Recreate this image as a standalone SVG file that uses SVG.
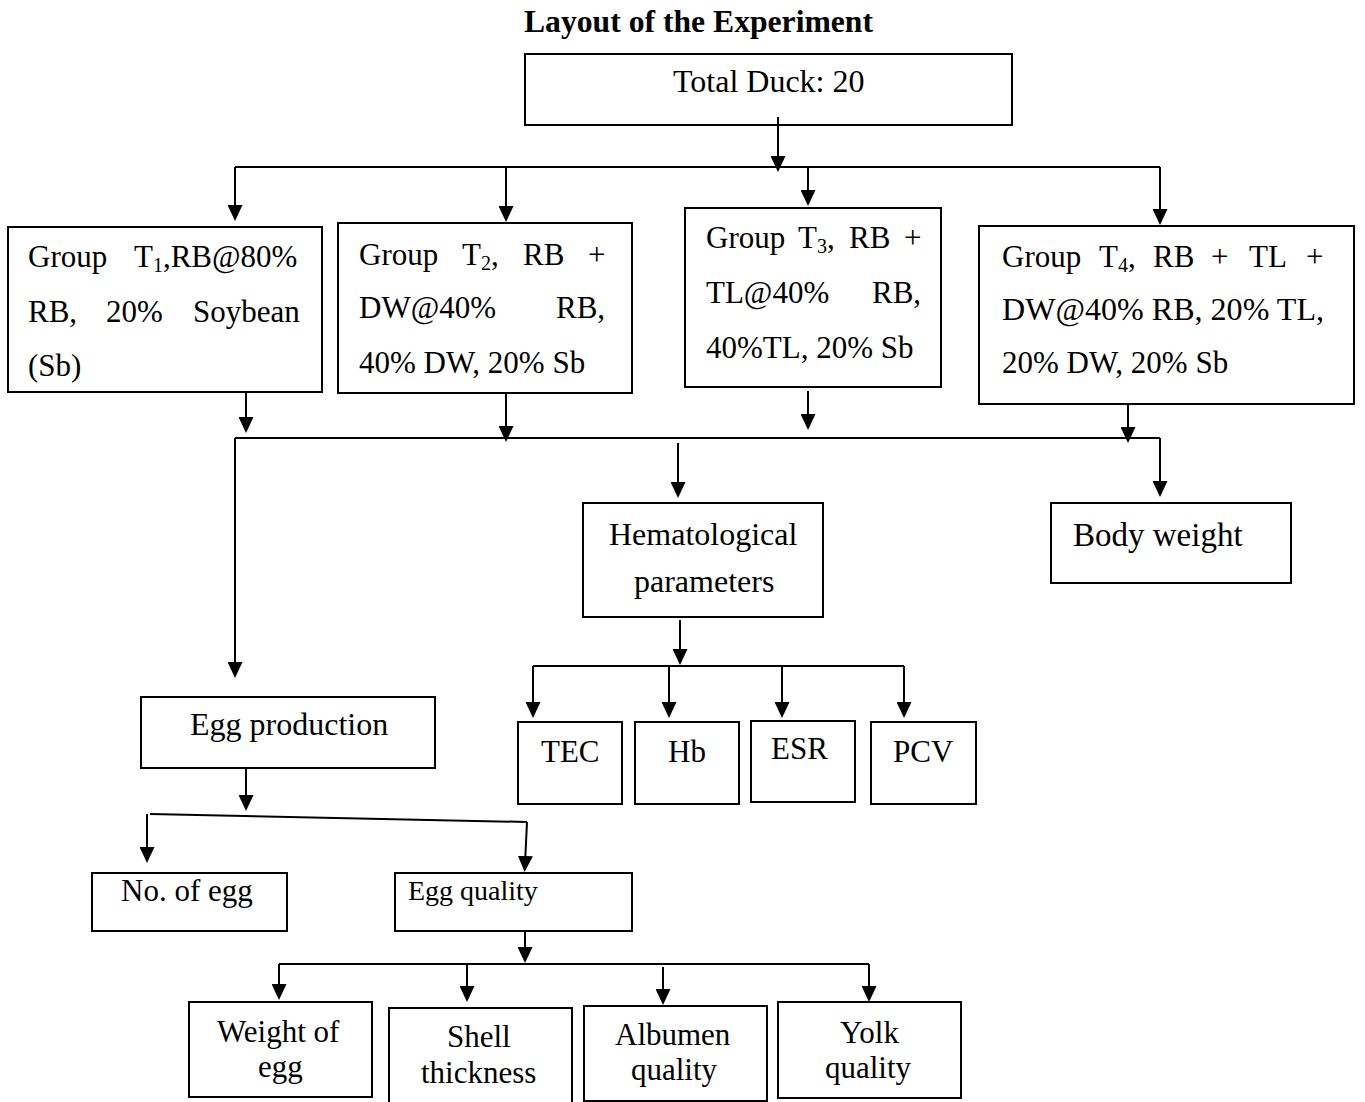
<svg xmlns="http://www.w3.org/2000/svg" width="1365" height="1102" viewBox="0 0 1365 1102">
<style>
.box{fill:#fff;stroke:#000;stroke-width:2}
.t{font-family:"Liberation Serif","Times New Roman",serif;font-size:31px;fill:#000}
.l{font-size:32px}
.sub{font-size:20px}
.title{font-family:"Liberation Serif","Times New Roman",serif;font-size:32px;font-weight:bold;fill:#000}
.c{fill:none;stroke:#000;stroke-width:2}
</style>
<defs>
<marker id="ah" viewBox="0 0 16 15" refX="12" refY="7.5" markerWidth="16" markerHeight="15" markerUnits="userSpaceOnUse" orient="auto">
<path d="M0,0 L16,7.5 L0,15 z" fill="#000"/>
</marker>
</defs>
<rect width="1365" height="1102" fill="#fff"/>
<text class="title" x="524" y="32" textLength="349" lengthAdjust="spacingAndGlyphs">Layout of the Experiment</text>

<g id="total">
<rect class="box" x="525" y="54" width="487" height="71"/>
<text class="t l" x="673" y="92">Total Duck: 20</text>
</g>

<g id="t1">
<rect class="box" x="8" y="227" width="314" height="165"/>
<text class="t" x="28" y="267">Group</text>
<text class="t" x="134" y="267">T<tspan class="sub" dy="5">1</tspan><tspan dy="-5">,RB@80%</tspan></text>
<text class="t" x="28" y="322">RB,</text>
<text class="t" x="106" y="322">20%</text>
<text class="t" x="193" y="322">Soybean</text>
<text class="t" x="28" y="376">(Sb)</text>
</g>

<g id="t2">
<rect class="box" x="338" y="223" width="294" height="170"/>
<text class="t" x="359" y="265">Group</text>
<text class="t" x="462" y="265">T<tspan class="sub" dy="5">2</tspan><tspan dy="-5">,</tspan></text>
<text class="t" x="523" y="265">RB</text>
<text class="t" x="588" y="265">+</text>
<text class="t" x="359" y="318">DW@40%</text>
<text class="t" x="556" y="318">RB,</text>
<text class="t" x="359" y="373">40% DW, 20% Sb</text>
</g>

<g id="t3">
<rect class="box" x="685" y="208" width="256" height="179"/>
<text class="t" x="706" y="248">Group</text>
<text class="t" x="798" y="248">T<tspan class="sub" dy="5">3</tspan><tspan dy="-5">,</tspan></text>
<text class="t" x="849" y="248">RB</text>
<text class="t" x="904" y="248">+</text>
<text class="t" x="706" y="303">TL@40%</text>
<text class="t" x="872" y="303">RB,</text>
<text class="t" x="706" y="358">40%TL, 20% Sb</text>
</g>

<g id="t4">
<rect class="box" x="979" y="226" width="375" height="178"/>
<text class="t" x="1002" y="267">Group</text>
<text class="t" x="1099" y="267">T<tspan class="sub" dy="5">4</tspan><tspan dy="-5">,</tspan></text>
<text class="t" x="1153" y="267">RB</text>
<text class="t" x="1211" y="267">+</text>
<text class="t" x="1249" y="267">TL</text>
<text class="t" x="1306" y="267">+</text>
<text class="t" x="1002" y="320" textLength="322" lengthAdjust="spacingAndGlyphs">DW@40% RB, 20% TL,</text>
<text class="t" x="1002" y="373">20% DW, 20% Sb</text>
</g>

<g id="hema">
<rect class="box" x="583" y="503" width="240" height="114"/>
<text class="t l" x="609" y="545">Hematological</text>
<text class="t l" x="634" y="592">parameters</text>
</g>

<g id="body">
<rect class="box" x="1051" y="503" width="240" height="80"/>
<text class="t" x="1073" y="546" style="font-size:33px">Body weight</text>
</g>

<g id="eggprod">
<rect class="box" x="141" y="697" width="294" height="71"/>
<text class="t l" x="190" y="735">Egg production</text>
</g>

<g id="tec">
<rect class="box" x="518" y="722" width="104" height="82"/>
<text class="t" x="541" y="762">TEC</text>
</g>
<g id="hb">
<rect class="box" x="635" y="722" width="104" height="82"/>
<text class="t" x="668" y="762">Hb</text>
</g>
<g id="esr">
<rect class="box" x="751" y="721" width="104" height="81"/>
<text class="t" x="771" y="759">ESR</text>
</g>
<g id="pcv">
<rect class="box" x="871" y="722" width="105" height="82"/>
<text class="t" x="893" y="762">PCV</text>
</g>

<g id="noegg">
<rect class="box" x="92" y="873" width="195" height="58"/>
<text class="t" x="121" y="901">No. of egg</text>
</g>
<g id="eggq">
<rect class="box" x="395" y="873" width="237" height="58"/>
<text class="t" x="408" y="900" style="font-size:28px">Egg quality</text>
</g>

<g id="weight">
<rect class="box" x="189" y="1002" width="183" height="95"/>
<text class="t" x="217" y="1042">Weight of</text>
<text class="t" x="258" y="1077">egg</text>
</g>
<g id="shell">
<rect class="box" x="389" y="1008" width="183" height="110"/>
<text class="t" x="447" y="1047">Shell</text>
<text class="t" x="421" y="1083">thickness</text>
</g>
<g id="albumen">
<rect class="box" x="584" y="1006" width="183" height="95"/>
<text class="t" x="615" y="1045">Albumen</text>
<text class="t" x="631" y="1080">quality</text>
</g>
<g id="yolk">
<rect class="box" x="778" y="1002" width="183" height="96"/>
<text class="t" x="840" y="1043">Yolk</text>
<text class="t" x="825" y="1078">quality</text>
</g>

<g id="connectors">
<path class="c" d="M778,117 V168" marker-end="url(#ah)"/>
<path class="c" d="M235,167 H1160"/>
<path class="c" d="M235,167 V217" marker-end="url(#ah)"/>
<path class="c" d="M506,167 V218" marker-end="url(#ah)"/>
<path class="c" d="M808,167 V202" marker-end="url(#ah)"/>
<path class="c" d="M1160,167 V221" marker-end="url(#ah)"/>

<path class="c" d="M246,392 V429" marker-end="url(#ah)"/>
<path class="c" d="M506,393 V438" marker-end="url(#ah)"/>
<path class="c" d="M808,391 V426" marker-end="url(#ah)"/>
<path class="c" d="M1128,404 V439" marker-end="url(#ah)"/>

<path class="c" d="M235,438 H1160"/>
<path class="c" d="M235,438 V674" marker-end="url(#ah)"/>
<path class="c" d="M678,443 V494" marker-end="url(#ah)"/>
<path class="c" d="M1160,438 V493" marker-end="url(#ah)"/>

<path class="c" d="M680,620 V661" marker-end="url(#ah)"/>
<path class="c" d="M533,666 H904"/>
<path class="c" d="M533,666 V714" marker-end="url(#ah)"/>
<path class="c" d="M669,665 V714" marker-end="url(#ah)"/>
<path class="c" d="M782,665 V714" marker-end="url(#ah)"/>
<path class="c" d="M904,666 V714" marker-end="url(#ah)"/>

<path class="c" d="M246,768 V807" marker-end="url(#ah)"/>
<path class="c" d="M150,814 L527,822"/>
<path class="c" d="M147,814 V859" marker-end="url(#ah)"/>
<path class="c" d="M527,822 L524.8,868" marker-end="url(#ah)"/>

<path class="c" d="M525,931 V959" marker-end="url(#ah)"/>
<path class="c" d="M279,964 H869"/>
<path class="c" d="M279,964 V996" marker-end="url(#ah)"/>
<path class="c" d="M467,964 V998" marker-end="url(#ah)"/>
<path class="c" d="M663,967 V1001" marker-end="url(#ah)"/>
<path class="c" d="M869,964 V998" marker-end="url(#ah)"/>
</g>
</svg>
